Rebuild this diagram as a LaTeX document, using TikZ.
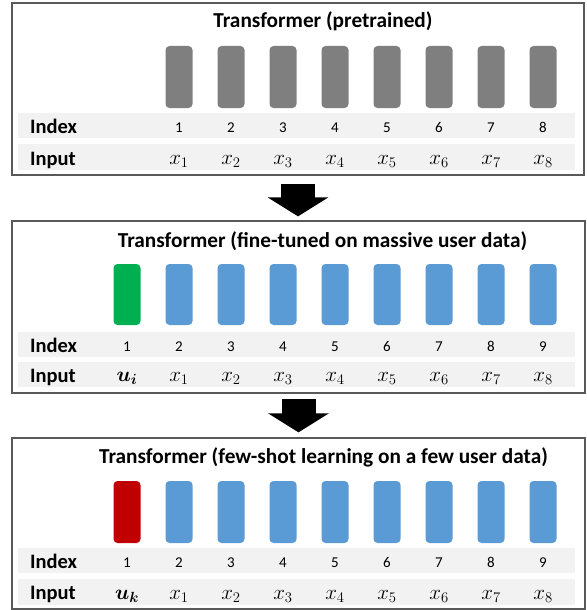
\RequirePackage{fix-cm}
\documentclass[tikz,border=0pt]{standalone}
\usepackage{amsmath}
\usepackage{bm}
\usepackage{fontspec}
\newfontfamily\calibri{Carlito}
\usetikzlibrary{arrows.meta}
\definecolor{bargray}{HTML}{7F7F7F}
\definecolor{barblue}{HTML}{5B9BD5}
\definecolor{bargreen}{HTML}{00B050}
\definecolor{barred}{HTML}{C00000}
\definecolor{bandgray}{HTML}{F2F2F2}
\definecolor{framegray}{HTML}{595959}
\begin{document}
\begin{tikzpicture}[x=1pt, y=-1pt,
    panel/.style={draw=framegray, line width=1.3pt, inner sep=0pt, minimum width=573pt, minimum height=172pt},
    bar/.style={rounded corners=4pt, inner sep=0pt, minimum width=27pt, minimum height=62pt},
    band/.style={fill=bandgray, inner sep=0pt, minimum width=557pt, minimum height=25pt},
    title/.style={font=\calibri\bfseries\fontsize{21.3}{24}\selectfont, anchor=base, inner sep=0pt},
    rowlabel/.style={font=\calibri\bfseries\fontsize{20.5}{24}\selectfont, anchor=base west, inner sep=0pt},
    idx/.style={font=\calibri\fontsize{15}{17}\selectfont, anchor=base, inner sep=0pt},
    inp/.style={font=\fontsize{21}{25}\selectfont, anchor=base, inner sep=0pt},
    bigarrow/.style={line width=34pt, -{Triangle[width=60pt,length=19pt]}}]
  \useasboundingbox (0,0) rectangle (586,610);
  % panels
  \draw
    (298,89) node[panel, minimum width=572pt] (p1){}
    (298.5,307) node[panel] (p2){}
    (298.5,523.5) node[panel, minimum height=171pt] (p3){};
  % pretrained
  \draw
    (296.5,125.5) node[band] (aidx){}
    (296.5,157) node[band, minimum height=26pt] (ainp){}
    (323,28) node[title] (atitle){Transformer (pretrained)}
    (30,133) node[rowlabel] (alab1){Index}
    (30,165) node[rowlabel] (alab2){Input}
    (179,77) node[bar, fill=bargray] (a1){}
    (231,77) node[bar, fill=bargray] (a2){}
    (283,77) node[bar, fill=bargray] (a3){}
    (335,77) node[bar, fill=bargray] (a4){}
    (387,77) node[bar, fill=bargray] (a5){}
    (439,77) node[bar, fill=bargray] (a6){}
    (491,77) node[bar, fill=bargray] (a7){}
    (543,77) node[bar, fill=bargray] (a8){}
    (179,132.5) node[idx] (ai1){1}
    (231,132.5) node[idx] (ai2){2}
    (283,132.5) node[idx] (ai3){3}
    (335,132.5) node[idx] (ai4){4}
    (387,132.5) node[idx] (ai5){5}
    (439,132.5) node[idx] (ai6){6}
    (491,132.5) node[idx] (ai7){7}
    (543,132.5) node[idx] (ai8){8}
    (179,164) node[inp] (ax1){$x_{1}$}
    (231,164) node[inp] (ax2){$x_{2}$}
    (283,164) node[inp] (ax3){$x_{3}$}
    (335,164) node[inp] (ax4){$x_{4}$}
    (387,164) node[inp] (ax5){$x_{5}$}
    (439,164) node[inp] (ax6){$x_{6}$}
    (491,164) node[inp] (ax7){$x_{7}$}
    (543,164) node[inp] (ax8){$x_{8}$};
  % fine-tuned
  \draw
    (296.5,344.5) node[band] (bidx){}
    (296.5,374.5) node[band] (binp){}
    (322.5,247) node[title] (btitle){Transformer (fine-tuned on massive user data)}
    (30,352) node[rowlabel] (blab1){Index}
    (30,382) node[rowlabel] (blab2){Input}
    (127,294.5) node[bar, fill=bargreen, minimum height=61pt] (b1){}
    (179,294.5) node[bar, fill=barblue, minimum height=61pt] (b2){}
    (231,294.5) node[bar, fill=barblue, minimum height=61pt] (b3){}
    (283,294.5) node[bar, fill=barblue, minimum height=61pt] (b4){}
    (335,294.5) node[bar, fill=barblue, minimum height=61pt] (b5){}
    (387,294.5) node[bar, fill=barblue, minimum height=61pt] (b6){}
    (439,294.5) node[bar, fill=barblue, minimum height=61pt] (b7){}
    (491,294.5) node[bar, fill=barblue, minimum height=61pt] (b8){}
    (543,294.5) node[bar, fill=barblue, minimum height=61pt] (b9){}
    (127,351.5) node[idx] (bi1){1}
    (179,351.5) node[idx] (bi2){2}
    (231,351.5) node[idx] (bi3){3}
    (283,351.5) node[idx] (bi4){4}
    (335,351.5) node[idx] (bi5){5}
    (387,351.5) node[idx] (bi6){6}
    (439,351.5) node[idx] (bi7){7}
    (491,351.5) node[idx] (bi8){8}
    (543,351.5) node[idx] (bi9){9}
    (127,381) node[inp] (bu){$\bm{u}_{\bm{i}}$}
    (179,381) node[inp] (bx1){$x_{1}$}
    (231,381) node[inp] (bx2){$x_{2}$}
    (283,381) node[inp] (bx3){$x_{3}$}
    (335,381) node[inp] (bx4){$x_{4}$}
    (387,381) node[inp] (bx5){$x_{5}$}
    (439,381) node[inp] (bx6){$x_{6}$}
    (491,381) node[inp] (bx7){$x_{7}$}
    (543,381) node[inp] (bx8){$x_{8}$};
  % few-shot
  \draw
    (296.5,560.5) node[band] (cidx){}
    (296.5,592) node[band, minimum height=26pt] (cinp){}
    (323.5,463) node[title] (ctitle){Transformer (few-shot learning on a few user data)}
    (30,568) node[rowlabel] (clab1){Index}
    (30,599.5) node[rowlabel] (clab2){Input}
    (127,512) node[bar, fill=barred] (c1){}
    (179,512) node[bar, fill=barblue] (c2){}
    (231,512) node[bar, fill=barblue] (c3){}
    (283,512) node[bar, fill=barblue] (c4){}
    (335,512) node[bar, fill=barblue] (c5){}
    (387,512) node[bar, fill=barblue] (c6){}
    (439,512) node[bar, fill=barblue] (c7){}
    (491,512) node[bar, fill=barblue] (c8){}
    (543,512) node[bar, fill=barblue] (c9){}
    (127,567.5) node[idx] (ci1){1}
    (179,567.5) node[idx] (ci2){2}
    (231,567.5) node[idx] (ci3){3}
    (283,567.5) node[idx] (ci4){4}
    (335,567.5) node[idx] (ci5){5}
    (387,567.5) node[idx] (ci6){6}
    (439,567.5) node[idx] (ci7){7}
    (491,567.5) node[idx] (ci8){8}
    (543,567.5) node[idx] (ci9){9}
    (127,599) node[inp] (cu){$\bm{u}_{\bm{k}}$}
    (179,599) node[inp] (cx1){$x_{1}$}
    (231,599) node[inp] (cx2){$x_{2}$}
    (283,599) node[inp] (cx3){$x_{3}$}
    (335,599) node[inp] (cx4){$x_{4}$}
    (387,599) node[inp] (cx5){$x_{5}$}
    (439,599) node[inp] (cx6){$x_{6}$}
    (491,599) node[inp] (cx7){$x_{7}$}
    (543,599) node[inp] (cx8){$x_{8}$};
  \begin{scope}[bigarrow]
    \draw ([yshift=-8pt]p1.south) to ([yshift=4pt]p1.south |- p2.north);
    \draw ([yshift=-5pt]p2.south) to ([yshift=5pt]p2.south |- p3.north);
  \end{scope}
\end{tikzpicture}
\end{document}
